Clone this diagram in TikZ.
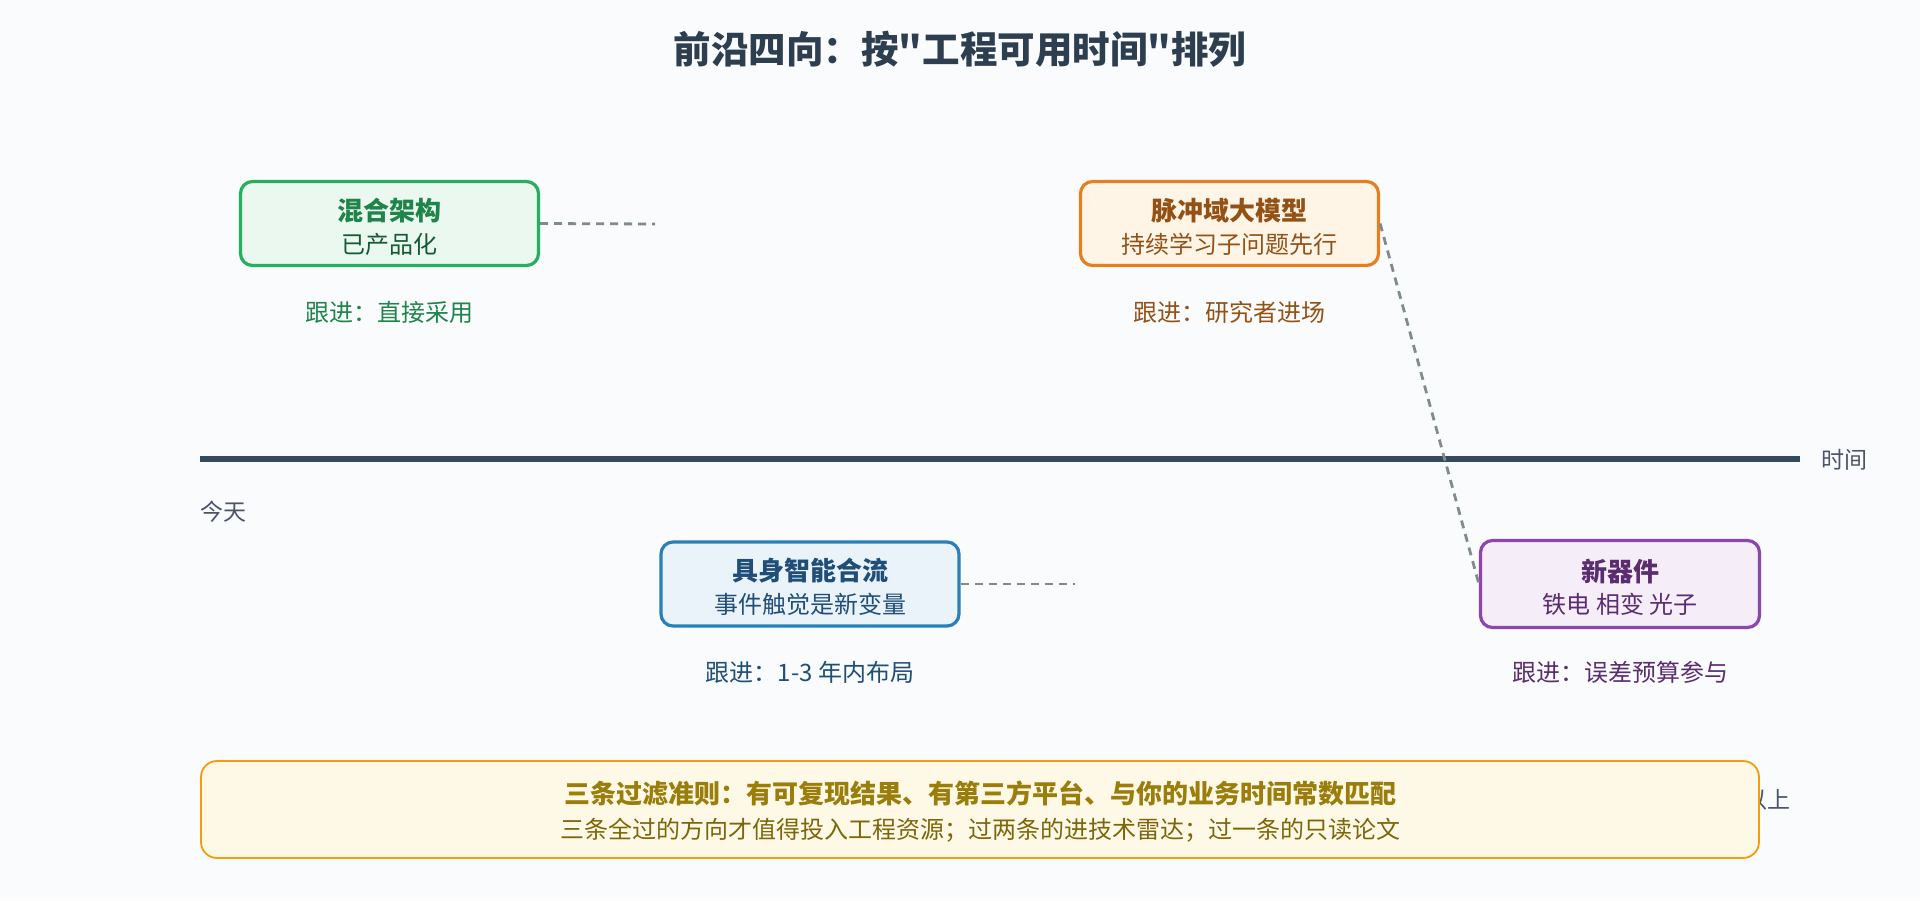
\documentclass[tikz,border=0pt]{standalone}
\usepackage{fontspec}
\setmainfont{Noto Sans CJK SC}[Ligatures=TeXOff]
\definecolor{bg}{HTML}{F9FBFD}
\definecolor{titlec}{HTML}{2C3E50}
\definecolor{axisc}{HTML}{34495E}
\definecolor{axtext}{HTML}{4A5568}
\definecolor{linkgray}{HTML}{7F8C8D}
\definecolor{gborder}{HTML}{27AE60}
\definecolor{gfill}{HTML}{EAF8EF}
\definecolor{gtext}{HTML}{1E8449}
\definecolor{gsub}{HTML}{145A32}
\definecolor{oborder}{HTML}{E67E22}
\definecolor{ofill}{HTML}{FEF5E7}
\definecolor{otext}{HTML}{935116}
\definecolor{bborder}{HTML}{2980B9}
\definecolor{bfill}{HTML}{EBF3FA}
\definecolor{btext}{HTML}{1F4E79}
\definecolor{pborder}{HTML}{8E44AD}
\definecolor{pfill}{HTML}{F5EEF8}
\definecolor{ptext}{HTML}{5B2C6F}
\definecolor{yborder}{HTML}{F39C12}
\definecolor{yfill}{HTML}{FEF9E7}
\definecolor{ytext}{HTML}{9A7D0A}
\definecolor{ysub}{HTML}{7D6608}
\begin{document}
\begin{tikzpicture}[x=1pt,y=-1pt,
  box/.style={draw, line width=3.2pt, rounded corners=12pt, minimum width=298pt, minimum height=84pt, inner sep=0pt},
  ttl/.style={font=\bfseries\fontsize{26}{30}\selectfont, inner sep=0pt},
  sub/.style={font=\fontsize{24}{28}\selectfont, inner sep=0pt},
  follow/.style={font=\fontsize{24}{28}\selectfont, inner sep=0pt},
  link/.style={draw=linkgray, line width=2.8pt, dash pattern=on 8pt off 6pt},
  axislbl/.style={font=\fontsize{23}{27}\selectfont, text=axtext, inner sep=0pt}
]
\fill[bg] (0,0) rectangle (1920,900);
\useasboundingbox (0,0) rectangle (1920,900);

% title
\node[font=\bfseries\fontsize{37.5}{44}\selectfont, text=titlec, inner sep=0pt] (title) at (960,49) {前沿四向：按"工程可用时间"排列};

% axis
\coordinate (axL) at (200,459);
\coordinate (axR) at (1800,459);
\draw[axisc, line width=6.5pt] (axL) -- (axR);
\node[axislbl, anchor=west] (timelbl) at (1821,460) {时间};
\node[axislbl, anchor=west] (today) at (200,512) {今天};

% boxes
\node[box, draw=gborder, fill=gfill] (green) at (389.5,223.5) {};
\node[ttl, text=gtext] (greent) at (389.5,211) {混合架构};
\node[sub, text=gsub] (greens) at (389.5,244) {已产品化};
\node[follow, text=gtext] (greenf) at (389.5,312) {跟进：直接采用};

\node[box, draw=oborder, fill=ofill] (orange) at (1229.5,223.5) {};
\node[ttl, text=otext] (oranget) at (1229.5,211) {脉冲域大模型};
\node[sub, text=otext] (oranges) at (1229.5,244) {持续学习子问题先行};
\node[follow, text=otext] (orangef) at (1229.5,312) {跟进：研究者进场};

\node[box, draw=bborder, fill=bfill] (blue) at (810,584) {};
\node[ttl, text=btext] (bluet) at (810,571) {具身智能合流};
\node[sub, text=btext] (blues) at (810,604) {事件触觉是新变量};
\node[follow, text=btext] (bluef) at (810,672) {跟进：1-3 年内布局};

\node[box, draw=pborder, fill=pfill, minimum width=279pt, minimum height=87pt] (purple) at (1620,584) {};
\node[ttl, text=ptext] (purplet) at (1620,572) {新器件};
\node[sub, text=ptext] (purples) at (1620,604) {铁电 相变 光子};
\node[follow, text=ptext] (purplef) at (1620,672) {跟进：误差预算参与};

% connectors
\coordinate (gend) at (655,224);
\coordinate (bend) at (1075,584);
\draw[link] (green.east) -- (gend);
\draw[link] (blue.east) -- (bend);
\draw[link] (orange.east) -- (purple.west);

% partially hidden label
\node[axislbl, anchor=east] (later) at (1791,800) {以上};

% bottom box
\node[draw=yborder, fill=yfill, line width=1.8pt, rounded corners=16pt, minimum width=1558pt, minimum height=97pt, inner sep=0pt] (rules) at (980,809.5) {};
\node[font=\bfseries\fontsize{26}{30}\selectfont, text=ytext, inner sep=0pt] (rules1) at (980,793) {三条过滤准则：有可复现结果、有第三方平台、与你的业务时间常数匹配};
\node[font=\fontsize{24}{28}\selectfont, text=ysub, inner sep=0pt] (rules2) at (980,830) {三条全过的方向才值得投入工程资源；过两条的进技术雷达；过一条的只读论文};
\end{tikzpicture}
\end{document}
